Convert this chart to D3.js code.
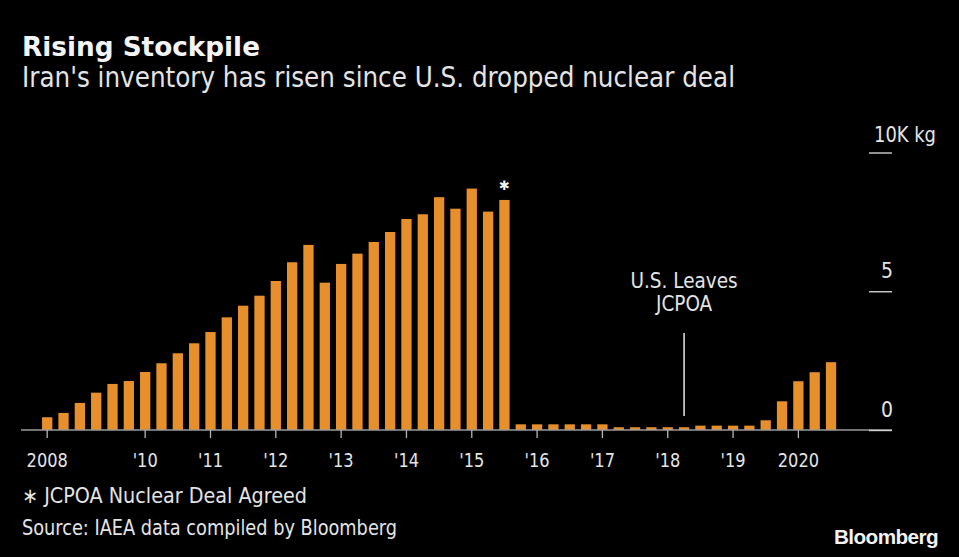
<!DOCTYPE html>
<html>
<head>
<meta charset="utf-8">
<script src="https://cdn.jsdelivr.net/npm/d3@7"></script>
<style>
  html, body { margin: 0; padding: 0; background: #000; }
  svg { display: block; }
  .cond { font-family: "DejaVu Sans Condensed", "DejaVu Sans", sans-serif; font-stretch: condensed; }
</style>
</head>
<body>
<svg id="chart" width="959" height="557"></svg>
<script>
// ---------- data ----------
const quarters = [
  "2008Q3","2008Q4",
  "2009Q1","2009Q2","2009Q3","2009Q4",
  "2010Q1","2010Q2","2010Q3","2010Q4",
  "2011Q1","2011Q2","2011Q3","2011Q4",
  "2012Q1","2012Q2","2012Q3","2012Q4",
  "2013Q1","2013Q2","2013Q3","2013Q4",
  "2014Q1","2014Q2","2014Q3","2014Q4",
  "2015Q1","2015Q2","2015Q3","2015Q4",
  "2016Q1","2016Q2","2016Q3","2016Q4",
  "2017Q1","2017Q2","2017Q3","2017Q4",
  "2018Q1","2018Q2","2018Q3","2018Q4",
  "2019Q1","2019Q2","2019Q3","2019Q4",
  "2020Q1","2020Q2","2020Q3"
];
const stockpileKg = [
  460, 615,
  975, 1345, 1660, 1765,
  2090, 2405, 2765, 3125,
  3530, 4060, 4480, 4840,
  5370, 6045, 6670, 5310,
  5985, 6355, 6775, 7135,
  7605, 7775, 8390, 7975,
  8700, 7870, 8290, 205,
  205, 205, 205, 205,
  205, 100, 100, 100,
  100, 100, 157, 157,
  157, 157, 350, 1035,
  1757, 2083, 2444
];
const tickQuarters = ["2008Q3","2010Q1","2011Q1","2012Q1","2013Q1","2014Q1","2015Q1","2016Q1","2017Q1","2018Q1","2019Q1","2020Q1"];
const tickLabels   = ["2008","'10","'11","'12","'13","'14","'15","'16","'17","'18","'19","2020"];
const yTicks = [0, 5000, 10000];
const yTickLabels = ["0", "5", "10K kg"];
const dealQuarter = "2015Q3";      // asterisk
const exitQuarter = "2018Q2";      // U.S. leaves JCPOA
const titleText = "Rising Stockpile";
const subtitleText = "Iran's inventory has risen since U.S. dropped nuclear deal";
const noteText = "\u2217 JCPOA Nuclear Deal Agreed";
const sourceText = "Source: IAEA data compiled by Bloomberg";

// ---------- layout ----------
const svg = d3.select("#chart");
const BAR = "#e68f2b";
const TXT = "#e4e4e4";

const x = d3.scaleBand()
  .domain(quarters)
  .range([39.03, 39.03 + 16.33 * quarters.length])
  .paddingInner(0.37)
  .paddingOuter(0.185);

const y = d3.scaleLinear().domain([0, 10000]).range([430, 152.5]);

function fit(sel, target) {
  const fs = parseFloat(sel.attr("font-size"));
  const w = sel.node().getComputedTextLength();
  if (w > target) {
    sel.attr("textLength", target).attr("lengthAdjust", "spacingAndGlyphs");
  } else {
    sel.attr("font-size", (fs * target / w).toFixed(2));
  }
}

// title & subtitle
const title = svg.append("text")
  .attr("x", 22).attr("y", 56)
  .attr("fill", "#f4f4f4")
  .attr("font-family", "DejaVu Sans, sans-serif")
  .attr("font-weight", "bold")
  .attr("font-size", 24)
  .text(titleText);
fit(title, 238);

const sub = svg.append("text")
  .attr("class", "cond")
  .attr("x", 22).attr("y", 87)
  .attr("fill", TXT)
  .attr("font-size", 27.5)
  .text(subtitleText);
fit(sub, 713);

// bars
svg.append("g").selectAll("rect")
  .data(quarters)
  .join("rect")
  .attr("x", d => x(d))
  .attr("width", x.bandwidth())
  .attr("y", (d, i) => y(stockpileKg[i]))
  .attr("height", (d, i) => y(0) - y(stockpileKg[i]))
  .attr("fill", BAR);

// baseline
svg.append("line")
  .attr("x1", 21).attr("x2", 892)
  .attr("y1", y(0)).attr("y2", y(0))
  .attr("stroke", "#9a9a9a").attr("stroke-width", 1.5);

// x axis
const xAxis = d3.axisBottom(x)
  .tickValues(tickQuarters)
  .tickFormat((d, i) => tickLabels[i])
  .tickSize(8)
  .tickPadding(14);
const gx = svg.append("g")
  .attr("transform", `translate(0,${y(0)})`)
  .call(xAxis);
gx.select(".domain").remove();
gx.selectAll(".tick line").attr("stroke", "#b5b5b5").attr("stroke-width", 1.3);
gx.selectAll(".tick text")
  .attr("class", "cond")
  .attr("fill", TXT)
  .attr("font-size", 20)
  .attr("dy", null)
  .attr("y", 37)
  .each(function() {
    const t = d3.select(this);
    const w = this.getComputedTextLength();
    t.attr("textLength", w * 0.9).attr("lengthAdjust", "spacingAndGlyphs");
  });

// y axis on right (stub lines + labels above)
const yAxis = d3.axisRight(y).tickValues(yTicks).tickSize(0).tickFormat("");
const gy = svg.append("g").attr("transform", "translate(869,0)").call(yAxis);
gy.select(".domain").remove();
gy.selectAll(".tick").each(function(d, i) {
  const t = d3.select(this);
  t.append("line")
    .attr("x1", 0).attr("x2", 23)
    .attr("stroke", "#d0d0d0").attr("stroke-width", 1.4);
  const isTop = i === yTicks.length - 1;
  const lab = t.append("text")
    .attr("class", "cond")
    .attr("x", isTop ? 5 : 24)
    .attr("y", isTop ? -11 : -13.5)
    .attr("text-anchor", isTop ? "start" : "end")
    .attr("fill", TXT)
    .attr("font-size", 21)
    .text(yTickLabels[i]);
  if (isTop) fit(lab, 62);
});

// asterisk over deal bar
const dealI = quarters.indexOf(dealQuarter);
svg.append("text")
  .attr("x", x(dealQuarter) + x.bandwidth() / 2)
  .attr("y", y(stockpileKg[dealI]) - 10)
  .attr("text-anchor", "middle")
  .attr("fill", "#f0f0f0")
  .attr("font-family", "DejaVu Sans, sans-serif")
  .attr("font-size", 13)
  .text("\u2731");

// U.S. leaves annotation
const ex = x(exitQuarter) + x.bandwidth() / 2;
svg.append("line")
  .attr("x1", ex).attr("x2", ex)
  .attr("y1", 333).attr("y2", 416)
  .attr("stroke", "#e8e8e8").attr("stroke-width", 1.5);
const ann = svg.append("text")
  .attr("class", "cond")
  .attr("text-anchor", "middle")
  .attr("fill", TXT)
  .attr("font-size", 20.5);
ann.append("tspan").attr("x", ex).attr("y", 288).text("U.S. Leaves");
ann.append("tspan").attr("x", ex).attr("y", 310.5).text("JCPOA");

// footnotes
const note = svg.append("text")
  .attr("class", "cond")
  .attr("x", 22).attr("y", 503)
  .attr("fill", TXT)
  .attr("font-size", 21)
  .text(noteText);
fit(note, 285);

const src = svg.append("text")
  .attr("class", "cond")
  .attr("x", 22).attr("y", 535)
  .attr("fill", TXT)
  .attr("font-size", 21)
  .text(sourceText);
fit(src, 375);

const logo = svg.append("text")
  .attr("x", 938).attr("y", 544)
  .attr("text-anchor", "end")
  .attr("fill", "#f2f2f2")
  .attr("font-family", "Liberation Sans, Arial, sans-serif")
  .attr("font-weight", "bold")
  .attr("font-size", 21)
  .attr("letter-spacing", -0.6)
  .text("Bloomberg");
fit(logo, 104);
</script>
</body>
</html>
